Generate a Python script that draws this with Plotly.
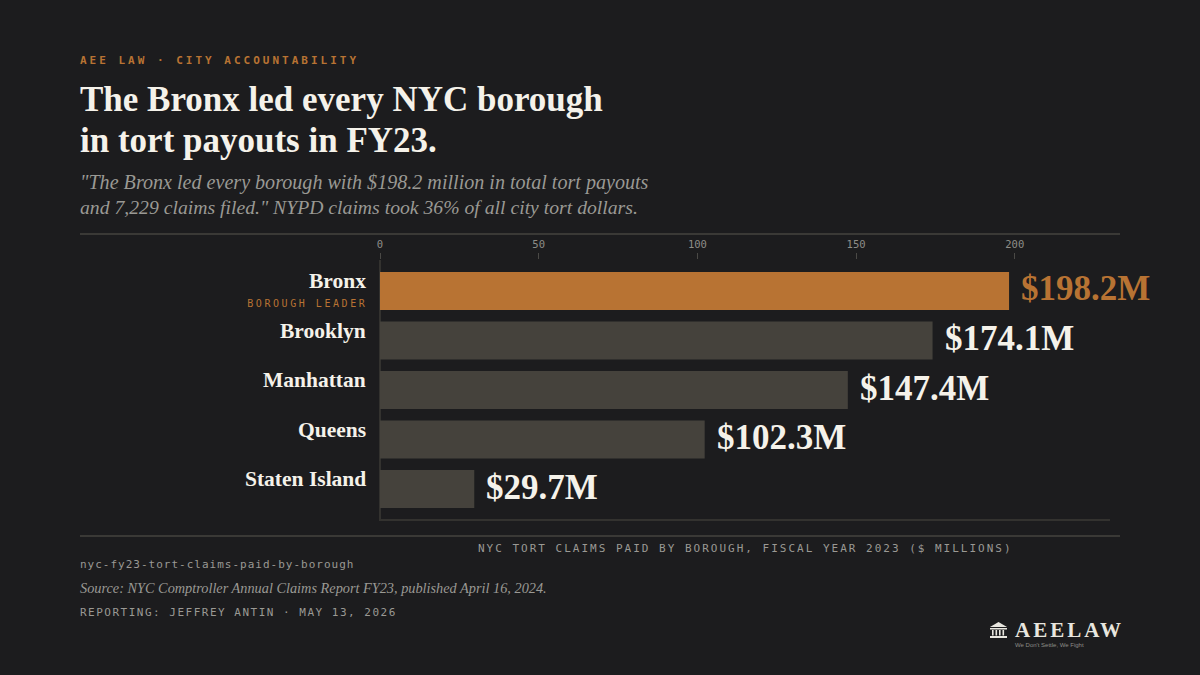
import plotly.graph_objects as go

boroughs = ["Bronx", "Brooklyn", "Manhattan", "Queens", "Staten Island"]
payouts = [198.2, 174.1, 147.4, 102.3, 29.7]
tick_values = [0, 50, 100, 150, 200]

BG = "#1c1c1e"
COPPER = "#b87333"
MUTED_BAR = "#45423c"
CREAM = "#f5f2ea"
RULE = "#3a3936"
GREY = "#9a9994"
SERIF = "'Liberation Serif', serif"
MONO = "'DejaVu Sans Mono', monospace"

W, H = 1200, 675
L, R, T, B = 380, 1110, 260, 520
# Annotation boxes carry a small inner padding, offset so text lands on its x
PAD = 2


def px(x):
    return (x - L) / (R - L)


def py(y):
    return (B - y) / (B - T)


def label(x, y, text, size, color, family=MONO, xanchor="left", bold=False, italic=False):
    if bold:
        text = f"<b>{text}</b>"
    if italic:
        text = f"<i>{text}</i>"
    shift = {"left": -PAD, "right": PAD, "center": 0}[xanchor]
    return dict(
        x=px(x), y=py(y), xref="paper", yref="paper", text=text, showarrow=False,
        xanchor=xanchor, yanchor="middle", align=xanchor,
        font=dict(family=family, size=size, color=color), xshift=shift, yshift=0,
    )


annotations = [
    label(80, 60, "AEE LAW · CITY ACCOUNTABILITY", 11, COPPER, bold=True),
    label(80, 99, "The Bronx led every NYC borough", 35, CREAM, SERIF, bold=True),
    label(80, 140, "in tort payouts in FY23.", 35, CREAM, SERIF, bold=True),
    label(80, 182, "\"The Bronx led every borough with $198.2 million in total tort payouts", 20.1, GREY, SERIF, italic=True),
    label(80, 207, "and 7,229 claims filed.\" NYPD claims took 36% of all city tort dollars.", 19.7, GREY, SERIF, italic=True),
    label(745, 548, "NYC TORT CLAIMS PAID BY BOROUGH, FISCAL YEAR 2023 ($ MILLIONS)", 11, GREY, xanchor="center"),
    label(80, 564, "nyc-fy23-tort-claims-paid-by-borough", 11, GREY),
    label(80, 588, "Source: NYC Comptroller Annual Claims Report FY23, published April 16, 2024.", 14.3, GREY, SERIF, italic=True),
    label(80, 612, "REPORTING: JEFFREY ANTIN · MAY 13, 2026", 11, GREY),
    label(1015, 630, "AEELAW", 21, "#e8e6df", SERIF, bold=True),
    label(1015, 644.5, "We Don't Settle, We Fight", 6, "#8e8d88", "'Liberation Sans', sans-serif"),
    label(368, 303, "BOROUGH LEADER", 10, COPPER, xanchor="right"),
]

# Borough names and dollar labels sit next to their bars on the data axes
for i, (name, value) in enumerate(zip(boroughs, payouts)):
    annotations.append(dict(
        x=0, y=name, xref="x", yref="y", text=f"<b>{name}</b>", showarrow=False,
        xanchor="right", yanchor="middle", xshift=-12, yshift=10,
        font=dict(family=SERIF, size=21.5, color=CREAM),
    ))
    annotations.append(dict(
        x=value, y=name, xref="x", yref="y", text=f"<b>${value}M</b>", showarrow=False,
        xanchor="left", yanchor="middle", xshift=10, yshift=2,
        font=dict(family=SERIF, size=35, color=COPPER if i == 0 else CREAM),
    ))


def rect(x0, y0, x1, y1, color=RULE):
    return dict(type="rect", xref="paper", yref="paper", x0=px(x0), x1=px(x1), y0=py(y0), y1=py(y1),
                fillcolor=color, line_width=0, layer="below")


shapes = [
    rect(80, 233, 1120, 235),
    rect(80, 535, 1120, 537),
    rect(379, 260, 381, 521, "#33322f"),
    rect(379, 519, 1110, 521, "#33322f"),
]

# Courthouse emblem beside the wordmark
EMBLEM = "#e8e6df"
shapes.append(dict(
    type="path", xref="paper", yref="paper", fillcolor=EMBLEM, line_width=0,
    path=f"M {px(990)} {py(627)} L {px(998.5)} {py(622)} L {px(1007)} {py(627)} Z",
))
shapes.append(rect(990, 628, 1007, 629.5, EMBLEM))
for cx in (992, 995.5, 999, 1002.5):
    shapes.append(rect(cx, 630, cx + 1.6, 635.5, EMBLEM))
shapes.append(rect(990, 636, 1007, 638, EMBLEM))

fig = go.Figure(go.Bar(
    x=payouts, y=boroughs, orientation="h", width=0.768,
    marker=dict(color=[COPPER] + [MUTED_BAR] * (len(boroughs) - 1), line_width=0),
    hoverinfo="skip",
))

fig.update_layout(
    width=W, height=H, autosize=False,
    paper_bgcolor=BG, plot_bgcolor=BG,
    margin=dict(l=L, r=W - R, t=T, b=H - B, pad=0),
    showlegend=False, annotations=annotations, shapes=shapes,
    xaxis=dict(
        side="top", range=[0, 230], tickvals=tick_values, showgrid=False, zeroline=False,
        showline=False, ticks="outside", ticklen=6, tickwidth=1, tickcolor="#4a4946",
        ticklabelstandoff=1,
        tickfont=dict(family=MONO, size=10.5, color="#8e8d88"),
    ),
    yaxis=dict(
        type="category", categoryorder="array", categoryarray=boroughs,
        range=[4.626, -0.626], showticklabels=False, showgrid=False, zeroline=False,
        showline=False, ticks="",
    ),
)

# Tracked-out caps for the monospaced captions
tracking = """
var spacing = [
  ['AEE LAW', '3px'], ['BOROUGH LEADER', '2.55px'], ['NYC TORT', '2px'],
  ['nyc-fy23', '1px'], ['REPORTING', '1.5px'], ['AEELAW', '3px']
];
document.querySelectorAll('.annotation-text').forEach(function (t) {
  spacing.forEach(function (s) {
    if (t.textContent.indexOf(s[0]) === 0) { t.style.letterSpacing = s[1]; }
  });
});
"""

fig.write_html("out.html", post_script=tracking, config={"displayModeBar": False})
